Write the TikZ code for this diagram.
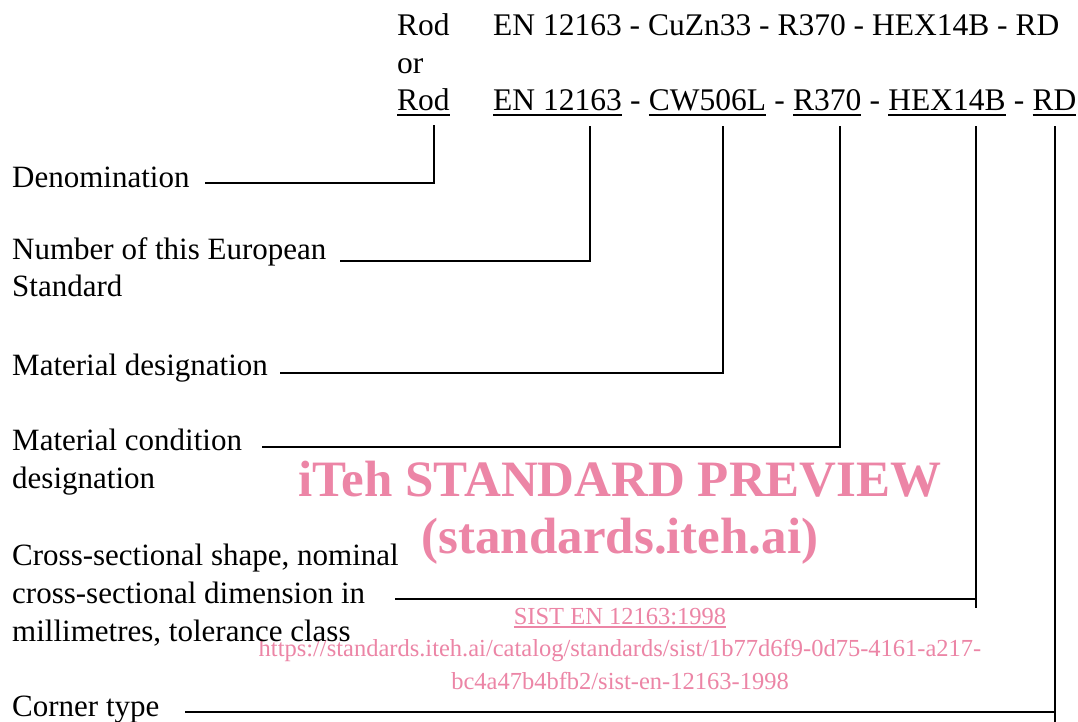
\documentclass[tikz,border=0pt]{standalone}
\usepackage{fontspec}
\setmainfont{Liberation Serif}
\usetikzlibrary{calc}
\definecolor{wm}{RGB}{236,133,166}
\newcommand\myul[1]{\setbox0\hbox{#1}\rlap{\rule[-5.5pt]{\wd0}{2pt}}\box0}
\newcommand\myulw[1]{\setbox0\hbox{#1}\rlap{\rule[-3.5pt]{\wd0}{1.1pt}}\box0}
\newcommand\sepdash{\mbox{}\ -\ \mbox{}}
\begin{document}
\begin{tikzpicture}[x=1pt,y=-1pt,
  lbl/.style={anchor=base west, inner sep=0pt, font=\fontsize{31}{37.8}\selectfont},
  code/.style={anchor=base west, inner sep=0pt, font=\fontsize{31.5}{37.8}\selectfont},
  wmbig/.style={inner sep=0pt, anchor=base, text=wm, font=\fontsize{51}{60}\selectfont\bfseries},
  wmsmall/.style={inner sep=0pt, anchor=base, text=wm, font=\fontsize{24.5}{30}\selectfont},
  conn/.style={line width=2.4pt}]
\useasboundingbox[fill=white] (0,0) rectangle (1078,721);
% watermark
\node[wmbig] (wm1) at (620,496) {iTeh STANDARD PREVIEW};
\node[wmbig] (wm2) at (620,553) {(standards.iteh.ai)};
\node[wmsmall] (wm3) at (620,624) {\myulw{SIST EN 12163:1998}};
\node[wmsmall] (wm4) at (620,656) {https://standards.iteh.ai/catalog/standards/sist/1b77d6f9-0d75-4161-a217-};
\node[wmsmall] (wm5) at (620,689) {bc4a47b4bfb2/sist-en-12163-1998};
% designation rows
\node[code] (r1a) at (397,35) {Rod};
\node[code] (r1b) at (493,35) {EN 12163 - CuZn33 - R370 - HEX14B - RD};
\node[code] (or) at (397,73) {or};
\node[code] (rod) at (397,110) {\myul{Rod}};
\node[code] (en) at (493,110) {\myul{EN 12163}};
\node[code] (s1) at (en.base east) {\sepdash};
\node[code] (cw) at (s1.base east) {\myul{CW506L}};
\node[code] (s2) at (cw.base east) {\sepdash};
\node[code] (rr) at (s2.base east) {\myul{R370}};
\node[code] (s3) at (rr.base east) {\sepdash};
\node[code] (hex) at (s3.base east) {\myul{HEX14B}};
\node[code] (s4) at (hex.base east) {\sepdash};
\node[code] (rd) at (s4.base east) {\myul{RD}};
% labels
\node[lbl] (denom) at (12,187) {Denomination};
\node[lbl] (num1) at (12,259) {Number of this European};
\node[lbl] (num2) at (12,296) {Standard};
\node[lbl] (mat) at (12,375) {Material designation};
\node[lbl] (cond1) at (12,450) {Material condition};
\node[lbl] (cond2) at (12,488) {designation};
\node[lbl] (cs1) at (12,565) {Cross-sectional shape, nominal};
\node[lbl] (cs2) at (12,603) {cross-sectional dimension in};
\node[lbl] (cs3) at (12,641) {millimetres, tolerance class};
\node[lbl] (corner) at (12,716) {Corner type};
% connectors
\draw[conn] ($(205,0 |- denom.base)+(0,-4)$) -| ($(434,0 |- rod.base)+(0,15)$);
\draw[conn] ($(340,0 |- num1.base)+(0,2)$) -| ($(590,0 |- en.base)+(0,16)$);
\draw[conn] ($(280,0 |- mat.base)+(0,-2)$) -| ($(723,0 |- cw.base)+(0,16)$);
\draw[conn] ($(262,0 |- cond1.base)+(0,-3)$) -| ($(840,0 |- rr.base)+(0,16)$);
\draw[conn] ($(395,0 |- cs2.base)+(0,-4)$) -- ($(976,0 |- cs2.base)+(0,-4)$);
\draw[conn] ($(976,0 |- hex.base)+(0,16)$) -- ($(976,0 |- cs2.base)+(0,5)$);
\draw[conn] ($(185,0 |- corner.base)+(0,-4)$) -- ($(1055,0 |- corner.base)+(0,-4)$);
\draw[conn] ($(1055,0 |- rd.base)+(0,16)$) -- ($(1055,0 |- corner.base)+(0,8)$);
\end{tikzpicture}
\end{document}
